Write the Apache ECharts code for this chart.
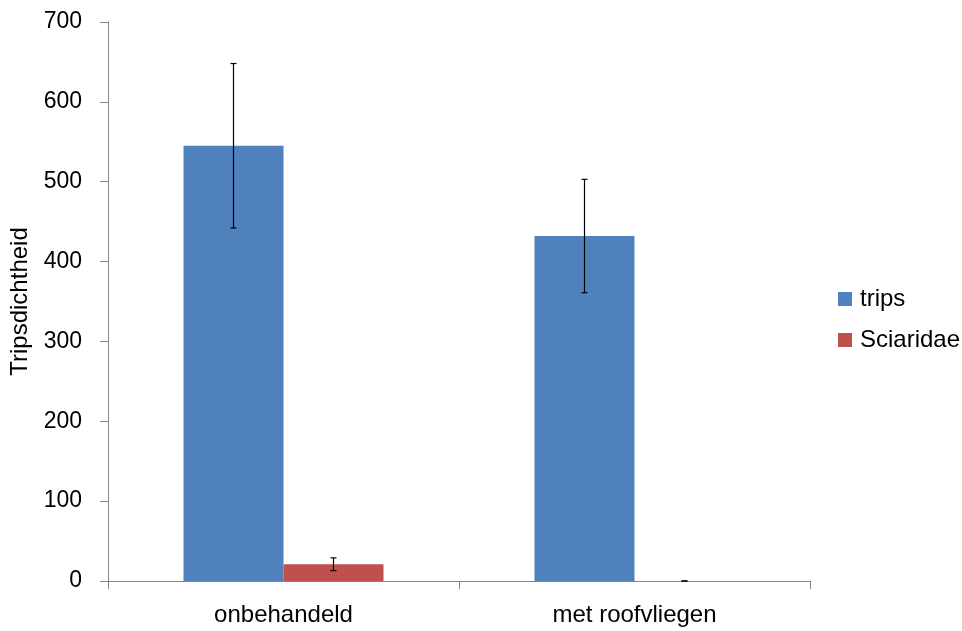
<!DOCTYPE html>
<html><head><meta charset="utf-8">
<script src="https://cdn.jsdelivr.net/npm/echarts@6/dist/echarts.min.js"></script>
<style>html,body{margin:0;padding:0;background:#fff}#c{width:962px;height:631px}</style>
</head><body><div id="c"></div>
<script>
var categories = ['onbehandeld', 'met roofvliegen'];
var tripsValues = [545, 432];
var tripsErrors = [103, 71];
var sciaridaeValues = [21, 0];
var sciaridaeErrors = [8, 0];
var yTicks = [0, 100, 200, 300, 400, 500, 600, 700];

var FONT = 'Liberation Sans, Arial, sans-serif';
var BAR_W = 100;

function errSeries(name, vals, errs, offset) {
  var data = vals.map(function (v, i) { return [i, v - errs[i], v + errs[i]]; });
  return {
    type: 'custom', name: name + '_err', z: 10, silent: true,
    renderItem: function (params, api) {
      var i = api.value(0);
      var lo = api.coord([i, api.value(1)]);
      var hi = api.coord([i, api.value(2)]);
      var x = lo[0] + offset;
      var cap = 3;
      var style = { stroke: '#000', lineWidth: 1.2 };
      return { type: 'group', children: [
        { type: 'line', shape: { x1: x, y1: lo[1], x2: x, y2: hi[1] }, style: style },
        { type: 'line', shape: { x1: x - cap, y1: lo[1], x2: x + cap, y2: lo[1] }, style: style },
        { type: 'line', shape: { x1: x - cap, y1: hi[1], x2: x + cap, y2: hi[1] }, style: style }
      ]};
    },
    encode: { x: 0, y: [1, 2] },
    data: data
  };
}

var chart = echarts.init(document.getElementById('c'));
chart.setOption({
  animation: false,
  textStyle: { fontFamily: FONT },
  grid: { left: 108, right: 152, top: 22, bottom: 50, containLabel: false, outerBoundsMode: 'none' },
  legend: {
    data: ['trips', 'Sciaridae'], orient: 'vertical', left: 838, top: 287, padding: 0,
    itemWidth: 14, itemHeight: 14, itemGap: 17, icon: 'rect',
    textStyle: { fontSize: 24, color: '#000', fontFamily: FONT, padding: [0, 0, 0, 3] }
  },
  xAxis: {
    type: 'category', data: categories,
    axisLine: { lineStyle: { color: '#868686', width: 1 } },
    axisTick: { show: true, length: 8, lineStyle: { color: '#868686' } },
    axisLabel: { fontSize: 24, color: '#000', margin: 22, fontFamily: FONT },
    splitLine: { show: false }
  },
  yAxis: {
    type: 'value', min: 0, max: 700, interval: 100,
    name: 'Tripsdichtheid', nameLocation: 'middle', nameGap: 74, nameRotate: 90,
    nameTextStyle: { fontSize: 24, color: '#000', fontFamily: FONT },
    axisLine: { show: true, lineStyle: { color: '#868686', width: 1 } },
    axisTick: { show: true, length: 8, lineStyle: { color: '#868686' } },
    axisLabel: { fontSize: 23, color: '#000', margin: 26, fontFamily: FONT,
      formatter: function (v) { return yTicks.indexOf(v) >= 0 ? String(v) : ''; } },
    splitLine: { show: false }
  },
  series: [
    { name: 'trips', type: 'bar', data: tripsValues, barWidth: BAR_W, barGap: '0%',
      itemStyle: { color: '#4F81BD' } },
    { name: 'Sciaridae', type: 'bar', data: sciaridaeValues, barWidth: BAR_W, barGap: '0%',
      itemStyle: { color: '#C0504D' } },
    errSeries('trips', tripsValues, tripsErrors, -BAR_W / 2),
    errSeries('Sciaridae', sciaridaeValues, sciaridaeErrors, BAR_W / 2)
  ]
});
</script></body></html>
